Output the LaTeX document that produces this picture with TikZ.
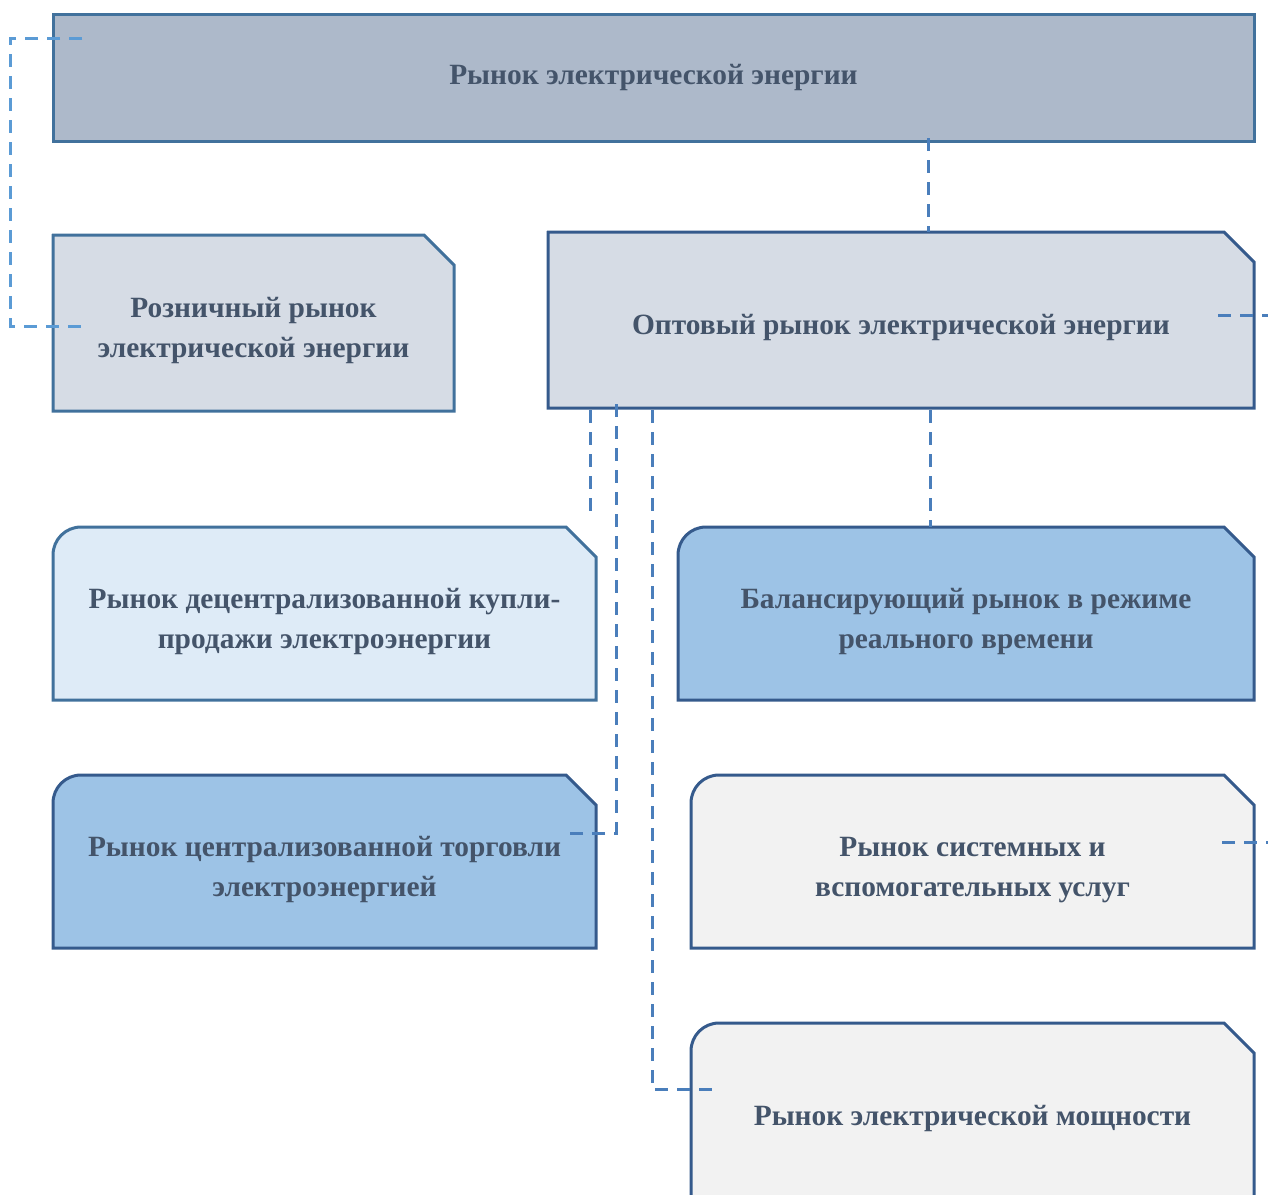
\documentclass[tikz,border=0pt]{standalone}
\usepackage{fontspec}
\setmainfont{Liberation Serif}
\usetikzlibrary{calc,backgrounds}
\definecolor{txt}{HTML}{44546A}
\definecolor{edgeA}{HTML}{41719C}
\definecolor{edgeB}{HTML}{355A8C}
\definecolor{fillT}{HTML}{ADB9CA}
\definecolor{fillA}{HTML}{D6DCE5}
\definecolor{fillC}{HTML}{DEEBF7}
\definecolor{fillD}{HTML}{9DC3E6}
\definecolor{fillE}{HTML}{F2F2F2}
\definecolor{linkc}{HTML}{4A7EBB}
\definecolor{linkl}{HTML}{5B9BD5}
\newcommand\lift{\rule{0pt}{18pt}}
\begin{document}
\begin{tikzpicture}
		[x=0.5pt, y=-0.5pt, main/.style = {align=center, text=txt, inner sep=0pt, outer sep=0pt,
		font=\fontsize{14.7}{20}\selectfont\bfseries},
		link/.style = {draw=linkc, line width=1.5pt, dash pattern=on 6.5pt off 4.5pt}]
	\clip (0,0) rectangle (1268,1194);
	\node[main, draw=edgeA, fill=fillT, line width=1.5pt, minimum width=600.5pt, minimum height=63.5pt] (top) at (653.5,77.5) {Рынок электрической энергии};
	\node[main, minimum width=200.5pt, minimum height=88pt] (retail) at (253.5,323) {\lift Розничный рынок\\электрической энергии};
	\node[main, minimum width=353pt, minimum height=88pt] (whole) at (901,320) {\lift Оптовый рынок электрической энергии};
	\node[main, minimum width=271.5pt, minimum height=86.5pt] (decent) at (324.5,613.5) {\lift Рынок децентрализованной купли-\\продажи электроэнергии};
	\node[main, minimum width=288pt, minimum height=86.5pt] (balance) at (966,613.5) {\lift Балансирующий рынок в режиме\\реального времени};
	\node[main, minimum width=271.5pt, minimum height=86.5pt] (central) at (324.5,861.5) {\lift Рынок централизованной торговли\\электроэнергией};
	\node[main, minimum width=281.5pt, minimum height=86.5pt] (sysserv) at (972.5,861.5) {\lift Рынок системных и\\вспомогательных услуг};
	\node[main, minimum width=281.5pt, minimum height=87.5pt] (capacity) at (972.5,1110.5) {\lift Рынок электрической мощности};
	% frames with cut corner
	\begin{scope}[on background layer]
	\foreach \n/\f/\e/\r in {retail/fillA/edgeA/0.01, whole/fillA/edgeB/0.01, decent/fillC/edgeA/14,
		balance/fillD/edgeB/14, central/fillD/edgeB/14, sysserv/fillE/edgeB/14, capacity/fillE/edgeB/14}
		\draw[draw=\e, fill=\f, line width=1.5pt] (\n.south west) -- ([yshift=-\r pt]\n.north west)
			arc[start angle=180, end angle=90, radius=\r pt] -- ([xshift=-15pt]\n.north east)
			-- ([yshift=-15pt]\n.north east) -- (\n.south east) -- cycle;
	\end{scope}
	\coordinate (lbus) at (10,326);
	\coordinate (wout) at (1268,315);
	\coordinate (sout) at (1268,842);
	\draw[link, draw=linkl] ($(top.north west)+(29,24)$) -| (lbus) -- ($(retail.west)+(37,3)$);
	\draw[link] ($(top.south)+(274.5,-3)$) -- ($(whole.north)+(27,0)$);
	\draw[link] ($(whole.south west)+(42,2)$) -- ($(decent.north east)+(-6,-7)$);
	\draw[link] ($(whole.south west)+(68,-4)$) |- ($(central.east)+(-26,-28.5)$);
	\draw[link] ($(whole.south west)+(104,2)$) |- ($(capacity.west)+(23,-21.5)$);
	\draw[link] ($(whole.south)+(29,2)$) -- ($(balance.north)+(-36,0)$);
	\draw[link] ($(whole.east)+(-36,-5)$) -- (wout);
	\draw[link] ($(sysserv.east)+(-32,-19.5)$) -- (sout);
\end{tikzpicture}
\end{document}
